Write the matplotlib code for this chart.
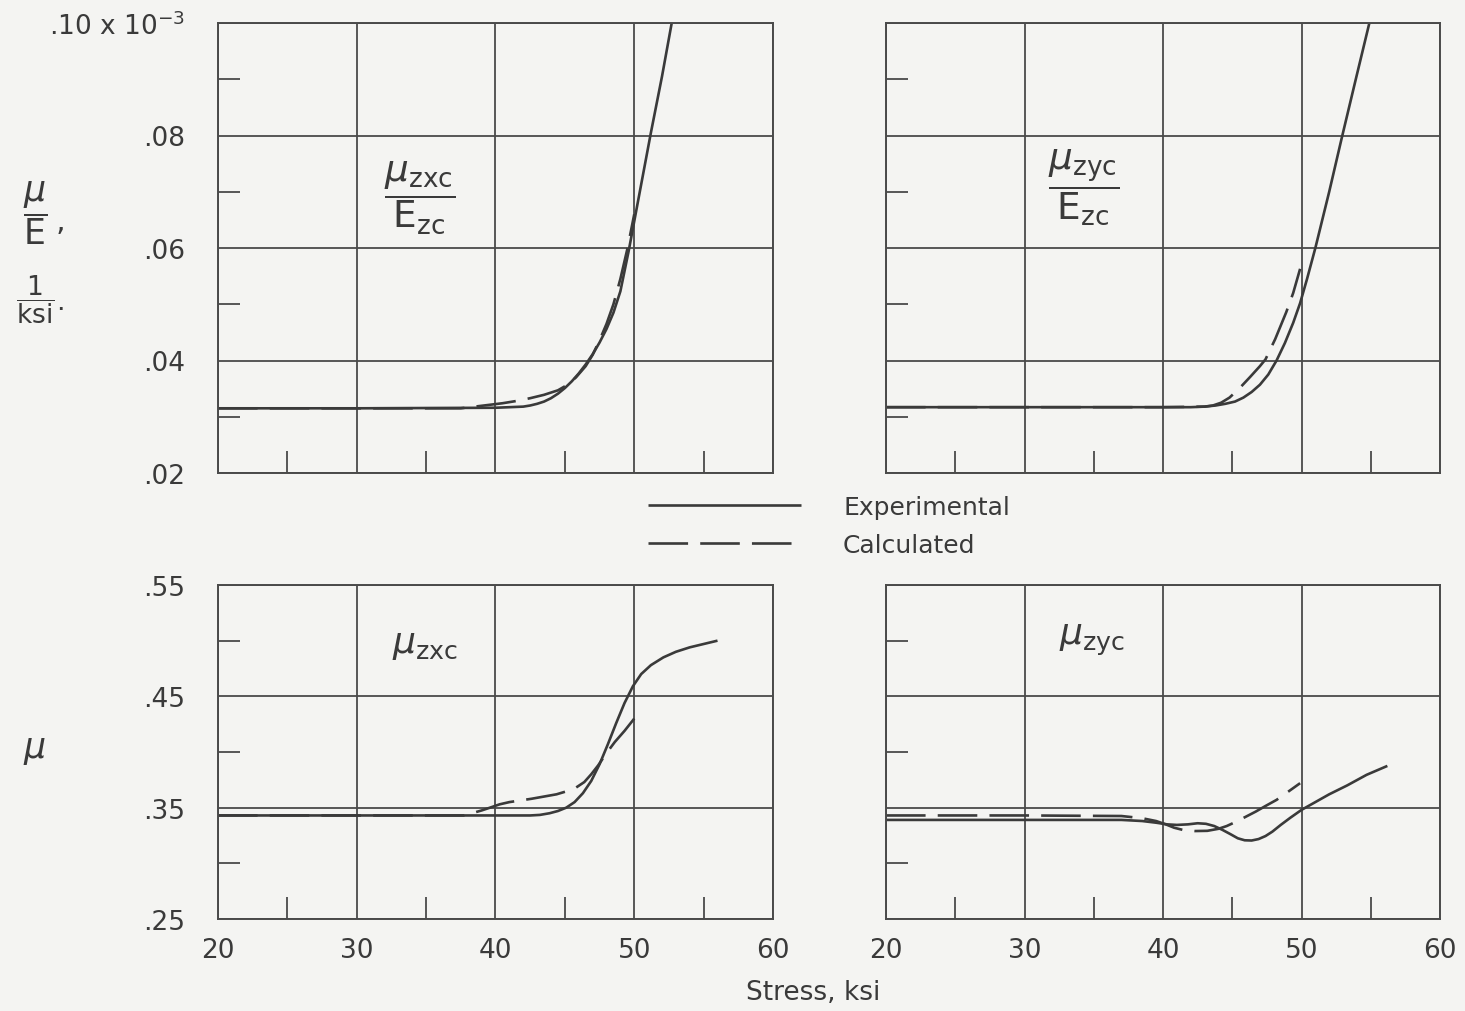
import matplotlib
matplotlib.use("Agg")
import matplotlib.pyplot as plt

# ---------------- data (stress in ksi) ----------------
# Top-left: mu_zxc / E_zc  (units x 10^-3 1/ksi)
tl_exp_x = [20, 30, 40, 41, 42, 42.5, 43, 43.5, 44, 44.5, 45, 45.5, 46, 46.5, 47, 47.5, 48, 48.5, 49, 49.6, 50.4, 51.2, 52.0, 52.7]
tl_exp_y = [.0315, .0315, .0316, .0317, .0318, .0320, .0323, .0327, .0333, .0341, .0351, .0363, .0377, .0393, .0411, .0432, .0456, .0485, .0523, .0595, .0700, .0805, .0905, .1000]
tl_calc_x = [20, 30, 37.5, 38.5, 39.5, 40.5, 41.5, 42.5, 43.5, 44.5, 45.2, 45.8, 46.5, 47, 47.5, 48, 48.5, 49, 49.5, 50]
tl_calc_y = [.0315, .0315, .0315, .0318, .0321, .0324, .0328, .0333, .0339, .0347, .0357, .0370, .0390, .0410, .0436, .0465, .0500, .0545, .0598, .0660]

# Top-right: mu_zyc / E_zc
tr_exp_x = [20, 30, 40, 42, 43, 43.8, 44.5, 45.2, 45.8, 46.4, 47.0, 47.6, 48.2, 48.8, 49.4, 49.9, 50.4, 51.0, 52.0, 52.9, 53.9, 54.9]
tr_exp_y = [.0317, .0317, .0317, .0317, .0318, .0320, .0323, .0327, .0334, .0344, .0357, .0375, .0400, .0431, .0467, .0502, .0545, .0600, .0700, .0795, .0898, .1000]
tr_calc_x = [20, 30, 40, 43.0, 43.6, 44.2, 44.8, 45.5, 46.3, 47.0, 47.4, 48.1, 48.9, 49.4, 49.9]
tr_calc_y = [.0317, .0317, .0317, .0318, .0320, .0325, .0334, .0350, .0371, .0390, .0402, .0438, .0486, .0520, .0563]

# Bottom-left: mu_zxc
bl_exp_x = [20, 30, 40, 42.5, 43.2, 43.9, 44.5, 45.1, 45.7, 46.3, 46.9, 47.5, 48.1, 48.7, 49.3, 49.9, 50.5, 51.2, 52.1, 53.0, 54.0, 55.0, 56.0]
bl_exp_y = [.343, .343, .343, .343, .3435, .345, .347, .350, .355, .363, .374, .389, .407, .426, .444, .459, .470, .478, .485, .490, .494, .497, .500]
bl_calc_x = [20, 30, 37.7, 38.3, 39, 39.6, 40.3, 41, 41.8, 42.6, 43.5, 44.4, 45.2, 45.8, 46.4, 46.9, 47.4, 48.0, 48.6, 49.3, 50.0]
bl_calc_y = [.343, .343, .343, .345, .3475, .350, .353, .355, .3565, .358, .360, .362, .365, .368, .373, .380, .388, .399, .409, .419, .430]

# Bottom-right: mu_zyc
br_exp_x = [20, 30, 37, 38.5, 39.5, 40.3, 41, 41.8, 42.5, 43.1, 43.7, 44.3, 44.9, 45.4, 45.9, 46.4, 46.9, 47.4, 47.9, 48.5, 49.2, 50, 51, 52, 53.3, 54.7, 56.2]
br_exp_y = [.339, .339, .339, .338, .3365, .335, .3345, .335, .336, .3355, .3335, .3300, .326, .3225, .3207, .3205, .3218, .3245, .3285, .3345, .341, .348, .355, .362, .370, .3795, .3875]
br_calc_x = [20, 30, 37, 38.5, 39.5, 40.2, 40.8, 41.5, 42.3, 43.2, 44.0, 44.6, 45.3, 46.0, 46.7, 47.4, 48.2, 49.0, 49.9]
br_calc_y = [.343, .343, .3425, .3405, .338, .335, .332, .3298, .3290, .3292, .331, .3335, .3375, .342, .3465, .3515, .357, .364, .372]

x_major = [20, 30, 40, 50, 60]
x_minor = [25, 35, 45, 55]
top_y_major = [.02, .04, .06, .08, .10]
top_y_minor = [.03, .05, .07, .09]
top_y_labels = [".02", ".04", ".06", ".08", ".10 x 10$^{-3}$"]
bot_y_major = [.25, .35, .45, .55]
bot_y_minor = [.30, .40, .50]
bot_y_labels = [".25", ".35", ".45", ".55"]
x_labels = ["20", "30", "40", "50", "60"]

# ---------------- style ----------------
plt.rcParams["font.family"] = ["DejaVu Sans"]
plt.rcParams["mathtext.fontset"] = "dejavusans"
BG = "#f4f4f2"
INK = "#3a3a3a"
GRID = "#4a4a4a"
LW = 1.9
DASH = (15, 4.6)
FS = 18

W, H = 1465, 1012
fig = plt.figure(figsize=(W / 100, H / 100), dpi=100, facecolor=BG)

def fx(px):
    return px / W

def fy(py):
    return 1 - py / H

def make_ax(left, top, right, bottom):
    return fig.add_axes([fx(left), fy(bottom), fx(right) - fx(left), fy(top) - fy(bottom)])

ax_tl = make_ax(218, 24, 773, 474)
ax_tr = make_ax(886, 24, 1440, 474)
ax_bl = make_ax(218, 586, 773, 920)
ax_br = make_ax(886, 586, 1440, 920)

def style(ax, ymaj, ymin, ylim, ylabels, show_y, show_x):
    ax.set_facecolor(BG)
    ax.set_xlim(20, 60)
    ax.set_ylim(*ylim)
    ax.set_xticks(x_major)
    ax.set_xticks(x_minor, minor=True)
    ax.set_yticks(ymaj)
    ax.set_yticks(ymin, minor=True)
    ax.set_xticklabels(x_labels if show_x else [])
    ax.set_yticklabels(ylabels if show_y else [])
    ax.grid(True, which="major", color=GRID, lw=1.3)
    ax.tick_params(which="major", length=0, labelsize=FS + 1, colors=INK)
    ax.tick_params(axis="y", which="major", pad=24)
    ax.tick_params(axis="x", which="major", pad=13)
    ax.tick_params(which="minor", direction="in", length=16, width=1.3,
                   color=GRID, top=False, right=False)
    for s in ax.spines.values():
        s.set_color(GRID)
        s.set_linewidth(1.4)

style(ax_tl, top_y_major, top_y_minor, (.02, .10), top_y_labels, True, False)
style(ax_tr, top_y_major, top_y_minor, (.02, .10), top_y_labels, False, False)
style(ax_bl, bot_y_major, bot_y_minor, (.25, .55), bot_y_labels, True, True)
style(ax_br, bot_y_major, bot_y_minor, (.25, .55), bot_y_labels, False, True)

def curves(ax, ex, ey, cx, cy):
    le, = ax.plot(ex, ey, color=INK, lw=LW, solid_capstyle="butt", solid_joinstyle="round")
    lc, = ax.plot(cx, cy, color=INK, lw=LW, dashes=DASH)
    return le, lc

l_exp, l_calc = curves(ax_tl, tl_exp_x, tl_exp_y, tl_calc_x, tl_calc_y)
curves(ax_tr, tr_exp_x, tr_exp_y, tr_calc_x, tr_calc_y)
curves(ax_bl, bl_exp_x, bl_exp_y, bl_calc_x, bl_calc_y)
curves(ax_br, br_exp_x, br_exp_y, br_calc_x, br_calc_y)

# panel labels
ax_tl.text(0.364, 0.613, r"$\dfrac{\mu_{\mathrm{zxc}}}{\mathrm{E}_{\mathrm{zc}}}$",
           transform=ax_tl.transAxes, ha="center", va="center", fontsize=27, color=INK)
ax_tr.text(0.356, 0.636, r"$\dfrac{\mu_{\mathrm{zyc}}}{\mathrm{E}_{\mathrm{zc}}}$",
           transform=ax_tr.transAxes, ha="center", va="center", fontsize=27, color=INK)
ax_bl.text(0.373, 0.823, r"$\mu_{\mathrm{zxc}}$", transform=ax_bl.transAxes,
           ha="center", va="center", fontsize=26, color=INK)
ax_br.text(0.372, 0.838, r"$\mu_{\mathrm{zyc}}$", transform=ax_br.transAxes,
           ha="center", va="center", fontsize=26, color=INK)

# axis labels
fig.text(fx(35), fy(213), r"$\dfrac{\mu}{\mathrm{E}}$", ha="center", va="center", fontsize=25, color=INK)
fig.text(fx(60), fy(222), ",", ha="center", va="center", fontsize=22, color=INK)
fig.text(fx(35), fy(300), r"$\dfrac{\mathrm{1}}{\mathrm{ksi}}$", ha="center", va="center", fontsize=19, color=INK)
fig.text(fx(60), fy(303), ".", ha="center", va="center", fontsize=19, color=INK)
fig.text(fx(35), fy(750), r"$\mu$", ha="center", va="center", fontsize=25, color=INK)
fig.text(fx(813), fy(993), "Stress, ksi", ha="center", va="center", fontsize=FS + 1, color=INK)

# legend
fig.legend([l_exp, l_calc], ["Experimental", "Calculated"], loc="upper left",
           bbox_to_anchor=(fx(648), fy(496)), frameon=False, fontsize=FS,
           handlelength=6.1, handletextpad=1.7, labelspacing=0.55,
           borderpad=0, borderaxespad=0, labelcolor=INK)

fig.savefig("out.png", dpi=100, facecolor=BG)
